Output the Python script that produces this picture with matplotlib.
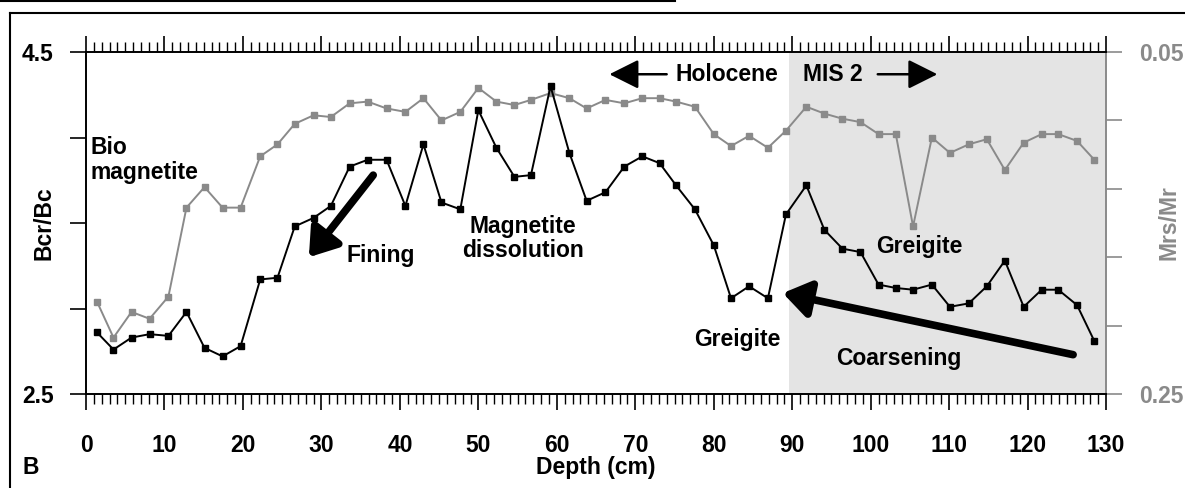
import matplotlib
matplotlib.use("Agg")
import matplotlib.pyplot as plt
from matplotlib.lines import Line2D
from matplotlib.ticker import MultipleLocator

# depth of each sample (cm)
depth = [1.4, 3.5, 5.8, 8.1, 10.5, 12.8, 15.1, 17.4, 19.7, 22.2,
         24.4, 26.6, 29.0, 31.2, 33.6, 35.9, 38.3, 40.7, 43.0, 45.3,
         47.7, 50.0, 52.3, 54.6, 56.7, 59.2, 61.6, 63.8, 66.2, 68.6,
         70.9, 73.1, 75.2, 77.6, 80.0, 82.2, 84.5, 86.9, 89.2, 91.8,
         94.1, 96.4, 98.7, 101.0, 103.2, 105.4, 107.8, 110.1, 112.5, 114.8,
         117.1, 119.5, 121.8, 123.9, 126.3, 128.5]

# coercivity ratio (left axis)
bcr_bc = [2.86, 2.76, 2.83, 2.85, 2.84, 2.98, 2.77, 2.72, 2.78, 3.17,
          3.18, 3.48, 3.53, 3.60, 3.83, 3.87, 3.87, 3.60, 3.96, 3.62,
          3.58, 4.16, 3.94, 3.77, 3.78, 4.30, 3.91, 3.63, 3.68, 3.83,
          3.89, 3.85, 3.72, 3.58, 3.37, 3.06, 3.13, 3.06, 3.55, 3.72,
          3.46, 3.35, 3.33, 3.14, 3.12, 3.11, 3.14, 3.01, 3.03, 3.13,
          3.28, 3.01, 3.11, 3.11, 3.02, 2.81]

# remanence ratio (right axis, reversed)
mrs_mr = [0.196, 0.217, 0.202, 0.206, 0.193, 0.141, 0.129, 0.141, 0.141, 0.111,
          0.104, 0.092, 0.087, 0.088, 0.080, 0.079, 0.083, 0.085, 0.077, 0.090,
          0.085, 0.071, 0.079, 0.081, 0.078, 0.074, 0.077, 0.083, 0.078, 0.080,
          0.077, 0.077, 0.079, 0.082, 0.098, 0.105, 0.099, 0.106, 0.096, 0.082,
          0.086, 0.089, 0.091, 0.098, 0.098, 0.152, 0.100, 0.109, 0.104, 0.101,
          0.119, 0.103, 0.098, 0.098, 0.102, 0.113]

left_ticks = [2.5, 3.0, 3.5, 4.0, 4.5]
left_labels = ["2.5", "", "", "", "4.5"]
right_ticks = [0.05, 0.09, 0.13, 0.17, 0.21, 0.25]
right_labels = ["0.05", "", "", "", "", "0.25"]

mis2_start = 89.6
GRAY = "#8a8a8a"
FS = 16.5

plt.rcParams["font.family"] = ["Liberation Sans", "DejaVu Sans"]
plt.rcParams["font.weight"] = "bold"
plt.rcParams["axes.labelweight"] = "bold"

fig = plt.figure(figsize=(11.85, 4.88), dpi=100)
ax = fig.add_axes([0.0726, 0.1926, 0.8608, 0.7008])
ax2 = ax.twinx()

# grey series and MIS 2 shading sit on the twin axes, underneath
ax2.axvspan(mis2_start, 130, color="#e4e4e4", lw=0, zorder=0)
ax2.plot(depth, mrs_mr, color=GRAY, lw=1.4, marker="s", ms=4.5, zorder=2)
ax2.set_ylim(0.25, 0.05)
ax2.set_yticks(right_ticks, right_labels)
ax2.tick_params(axis="y", direction="out", length=11.5, width=1.2,
                colors=GRAY, labelsize=FS, pad=12)
ax2.set_ylabel("Mrs/Mr", color=GRAY, fontsize=FS)
ax2.yaxis.set_label_coords(1.050, 0.5)
for side in ["left", "top", "bottom"]:
    ax2.spines[side].set_visible(False)
ax2.spines["right"].set_color(GRAY)
ax2.spines["right"].set_linewidth(1.4)

# black series on top
ax.set_zorder(ax2.get_zorder() + 1)
ax.patch.set_visible(False)
ax.plot(depth, bcr_bc, color="black", lw=1.4, marker="s", ms=5, zorder=3)

ax.set_xlim(0, 130)
ax.set_ylim(2.5, 4.5)
ax.xaxis.set_major_locator(MultipleLocator(10))
ax.xaxis.set_minor_locator(MultipleLocator(1))
ax.set_yticks(left_ticks, left_labels)
ax.tick_params(axis="x", which="both", direction="out", top=True, bottom=True,
               labelsize=FS, pad=17)
ax.tick_params(axis="x", which="major", length=11.5, width=1.2)
ax.tick_params(axis="x", which="minor", length=7.5, width=1.0)
ax.tick_params(axis="y", direction="out", length=11.5, width=1.2,
               labelsize=FS, pad=12, right=False)
ax.spines["right"].set_visible(False)
for side in ["left", "top", "bottom"]:
    ax.spines[side].set_linewidth(1.4)

ax.set_ylabel("Bcr/Bc", fontsize=FS)
ax.yaxis.set_label_coords(-0.030, 0.5)
ax.set_xlabel("Depth (cm)", fontsize=FS)
ax.xaxis.set_label_coords(0.5, -0.18)

# annotations
ax.text(0.6, 3.87, "Bio\nmagnetite", ha="left", va="center",
        fontsize=FS, linespacing=1.1)
ax.text(37.6, 3.31, "Fining", ha="center", va="center", fontsize=FS)
ax.text(55.7, 3.41, "Magnetite\ndissolution", ha="center", va="center",
        fontsize=FS, linespacing=1.1)
ax.text(83.0, 2.82, "Greigite", ha="center", va="center", fontsize=FS)
ax.text(106.2, 3.365, "Greigite", ha="center", va="center", fontsize=FS)
ax.text(103.6, 2.705, "Coarsening", ha="center", va="center", fontsize=FS)

ax.text(75.1, 4.37, "Holocene", ha="left", va="center", fontsize=FS)
ax.text(91.4, 4.37, "MIS 2", ha="left", va="center", fontsize=FS)

thin = dict(arrowstyle="-|>,head_length=0.9,head_width=0.45", color="black",
            lw=1.8, mutation_scale=20, shrinkA=0, shrinkB=0)
ax.annotate("", xy=(66.7, 4.37), xytext=(74.0, 4.37), arrowprops=thin)
ax.annotate("", xy=(108.5, 4.37), xytext=(100.9, 4.37), arrowprops=thin)

thick = dict(arrowstyle="-|>,head_length=0.8,head_width=0.55", color="black",
             lw=5.5, mutation_scale=20, shrinkA=0, shrinkB=0,
             capstyle="round")
ax.annotate("", xy=(28.4, 3.30), xytext=(36.6, 3.78), arrowprops=thick)
ax.annotate("", xy=(88.8, 3.09), xytext=(125.8, 2.73), arrowprops=thick)

fig.text(31 / 1185, 1 - 467 / 488, "B", ha="center", va="center", fontsize=FS)

# panel frame
fig.add_artist(Line2D([0, 675 / 1185], [1 - 1 / 488] * 2, color="black", lw=1.5))
fig.add_artist(Line2D([10 / 1185, 1], [1 - 12.5 / 488] * 2, color="black", lw=1.5))
fig.add_artist(Line2D([10 / 1185] * 2, [0, 1 - 12.5 / 488], color="black", lw=1.5))

fig.savefig("out.png", dpi=100)
